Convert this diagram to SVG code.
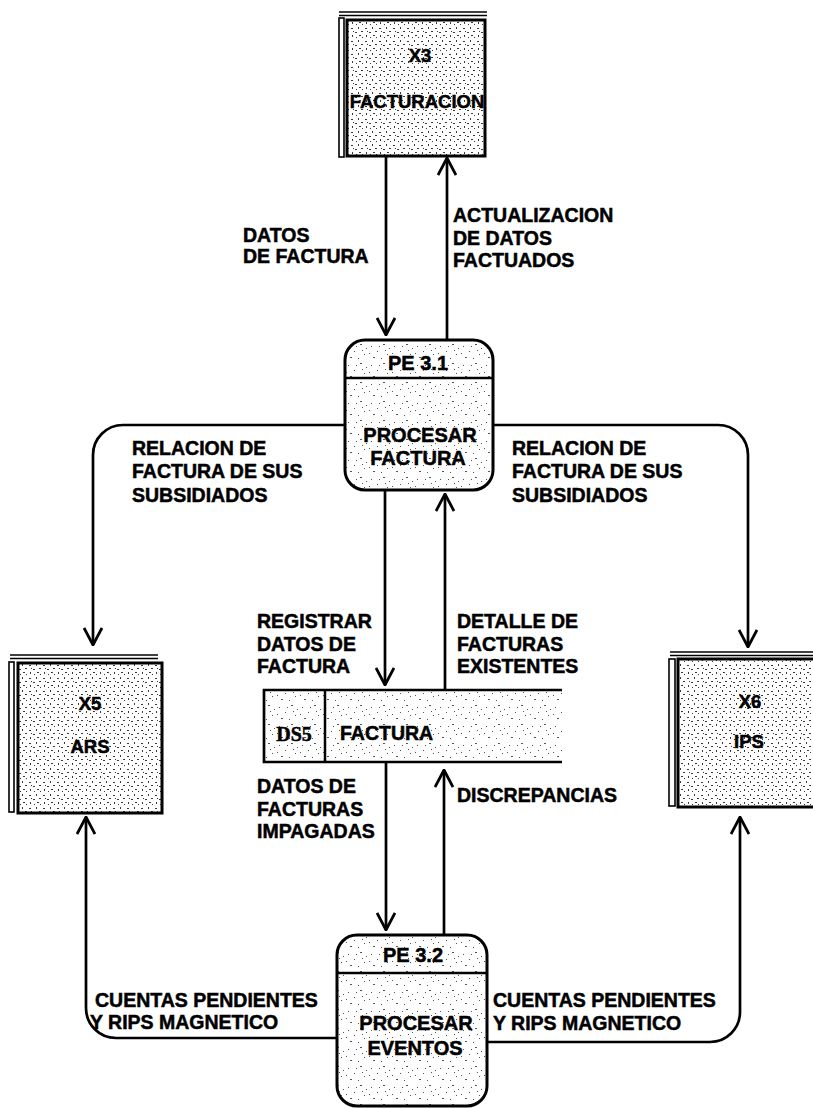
<svg xmlns="http://www.w3.org/2000/svg" width="813" height="1109" viewBox="0 0 813 1109">
  <defs>
    <!-- dense halftone for external entities -->
    <pattern id="grainDense" width="14" height="13" patternUnits="userSpaceOnUse">
      <rect width="14" height="13" fill="#fff"/>
      <path d="M1 2h2v1h-2z M8 1h1v2h-1z M5 6h2v1h-2z M11 5h2v1h-2z M2 9h1v2h-1z M9 9h2v1h-2z M12 11h1v1h-1z M6 11h1v1h-1z M3 5h1v1h-1z" fill="#3a3a3a"/>
    </pattern>
    <!-- sparse speckle for processes and the data store -->
    <pattern id="grainLight" width="23" height="19" patternUnits="userSpaceOnUse">
      <rect width="23" height="19" fill="#fff"/>
      <path d="M3 4h1v1h-1z M15 2h2v1h-2z M9 9h1v1h-1z M19 12h1v1h-1z M5 15h2v1h-2z M13 16h1v1h-1z M21 6h1v1h-1z M11 4h1v1h-1z M1 11h1v1h-1z M17 8h1v1h-1z" fill="#555"/>
    </pattern>
    <marker id="arrow" viewBox="0 0 20 20" refX="19" refY="10" markerWidth="20" markerHeight="20" markerUnits="userSpaceOnUse" orient="auto">
      <path d="M2,1 L19,10 L2,19" fill="none" stroke="#000" stroke-width="2.8"/>
    </marker>
    <style>
      .ent { fill: url(#grainDense); stroke: #000; stroke-width: 3; }
      .edge { fill: none; stroke: #000; stroke-width: 1.6; }
      .proc { fill: url(#grainLight); stroke: #000; stroke-width: 3; }
      .div { stroke: #000; stroke-width: 2.5; }
      .flow { fill: none; stroke: #000; stroke-width: 2.7; }
      .arr { marker-end: url(#arrow); }
      text { stroke: #000; stroke-width: 0.5; fill: #000; }
      .lbl { font-family: "Liberation Sans", Arial, sans-serif; font-weight: bold; font-size: 19.5px; }
      .nt { font-family: "Liberation Sans", Arial, sans-serif; font-weight: bold; font-size: 20px; text-anchor: middle; }
      .et { font-family: "Liberation Sans", Arial, sans-serif; font-weight: bold; font-size: 18.5px; text-anchor: middle; }
      .st { font-family: "Liberation Serif", "Times New Roman", serif; font-weight: bold; font-size: 20px; text-anchor: middle; }
    </style>
  </defs>

  <rect width="813" height="1109" fill="#fff"/>

  <!-- connectors -->
  <g id="connectors">
    <path class="flow arr" d="M386,157 V335"/>
    <path class="flow arr" d="M447,340 V158"/>
    <path class="flow arr" d="M345,425 H123 A30,30 0 0 0 93,455 V645"/>
    <path class="flow arr" d="M493,425 H718 A30,30 0 0 1 748,455 V647"/>
    <path class="flow arr" d="M385,490 V685"/>
    <path class="flow arr" d="M445,690 V494"/>
    <path class="flow arr" d="M386,762 V930"/>
    <path class="flow arr" d="M444,935 V770"/>
    <path class="flow arr" d="M337,1038 H116 A30,30 0 0 1 86,1008 V817"/>
    <path class="flow arr" d="M487,1042 H710 A30,30 0 0 0 740,1012 V817"/>

    <text class="lbl" x="243" y="242">DATOS</text>
    <text class="lbl" x="243" y="263">DE FACTURA</text>
    <text class="lbl" x="453" y="222">ACTUALIZACION</text>
    <text class="lbl" x="453" y="245">DE DATOS</text>
    <text class="lbl" x="453" y="267">FACTUADOS</text>

    <text class="lbl" x="132" y="455">RELACION DE</text>
    <text class="lbl" x="132" y="478">FACTURA DE SUS</text>
    <text class="lbl" x="132" y="502">SUBSIDIADOS</text>
    <text class="lbl" x="512" y="455">RELACION DE</text>
    <text class="lbl" x="512" y="478">FACTURA DE SUS</text>
    <text class="lbl" x="512" y="502">SUBSIDIADOS</text>

    <text class="lbl" x="257" y="628">REGISTRAR</text>
    <text class="lbl" x="257" y="651">DATOS DE</text>
    <text class="lbl" x="257" y="673">FACTURA</text>
    <text class="lbl" x="457" y="628">DETALLE DE</text>
    <text class="lbl" x="457" y="651">FACTURAS</text>
    <text class="lbl" x="457" y="673">EXISTENTES</text>

    <text class="lbl" x="257" y="793">DATOS DE</text>
    <text class="lbl" x="257" y="816">FACTURAS</text>
    <text class="lbl" x="257" y="838">IMPAGADAS</text>
    <text class="lbl" x="457" y="802">DISCREPANCIAS</text>

    <text class="lbl" x="95" y="1007">CUENTAS PENDIENTES</text>
    <text class="lbl" x="90" y="1029">Y RIPS MAGNETICO</text>
    <text class="lbl" x="493" y="1007">CUENTAS PENDIENTES</text>
    <text class="lbl" x="493" y="1030">Y RIPS MAGNETICO</text>
  </g>

  <!-- external entity X3 -->
  <g id="x3">
    <line class="edge" x1="339" y1="12" x2="487" y2="12"/>
    <line class="edge" x1="339" y1="15.5" x2="487" y2="15.5"/>
    <rect class="edge" x="339" y="18" width="5" height="139" fill="none"/>
    <rect class="ent" x="347" y="20" width="138" height="136"/>
    <text class="et" x="420" y="62">X3</text>
    <text class="et" x="417" y="108" font-size="18px">FACTURACION</text>
  </g>

  <!-- external entity X5 -->
  <g id="x5">
    <line class="edge" x1="10" y1="655" x2="158" y2="655"/>
    <line class="edge" x1="10" y1="658.5" x2="158" y2="658.5"/>
    <rect class="edge" x="9" y="662" width="5" height="150" fill="none"/>
    <rect class="ent" x="18" y="663" width="144" height="150"/>
    <text class="et" x="90" y="710">X5</text>
    <text class="et" x="90" y="753">ARS</text>
  </g>

  <!-- external entity X6 -->
  <g id="x6">
    <line class="edge" x1="670" y1="652" x2="813" y2="652"/>
    <line class="edge" x1="670" y1="655.5" x2="813" y2="655.5"/>
    <rect class="edge" x="669" y="659" width="6" height="147" fill="none"/>
    <rect class="ent" x="678" y="659" width="145" height="148"/>
    <text class="et" x="750" y="708">X6</text>
    <text class="et" x="749" y="748">IPS</text>
  </g>

  <!-- process PE 3.1 -->
  <g id="pe31">
    <rect class="proc" x="345" y="340" width="148" height="150" rx="20" ry="20"/>
    <line class="div" x1="345" y1="378" x2="493" y2="378"/>
    <text class="nt" x="418" y="370">PE 3.1</text>
    <text class="nt" x="420" y="442">PROCESAR</text>
    <text class="nt" x="418" y="465">FACTURA</text>
  </g>

  <!-- data store DS5 -->
  <g id="ds5">
    <rect x="264" y="690" width="298" height="72" fill="url(#grainLight)"/>
    <path class="flow" d="M562,690 H264 V762 H562" stroke-width="3"/>
    <line class="div" x1="325" y1="690" x2="325" y2="762"/>
    <text class="st" x="294" y="741">DS5</text>
    <text class="lbl" x="340" y="740" font-size="20px">FACTURA</text>
  </g>

  <!-- process PE 3.2 -->
  <g id="pe32">
    <rect class="proc" x="337" y="935" width="150" height="171" rx="20" ry="20"/>
    <line class="div" x1="337" y1="973" x2="487" y2="973"/>
    <text class="nt" x="413" y="962">PE 3.2</text>
    <text class="nt" x="416" y="1030">PROCESAR</text>
    <text class="nt" x="415" y="1055">EVENTOS</text>
  </g>
</svg>
